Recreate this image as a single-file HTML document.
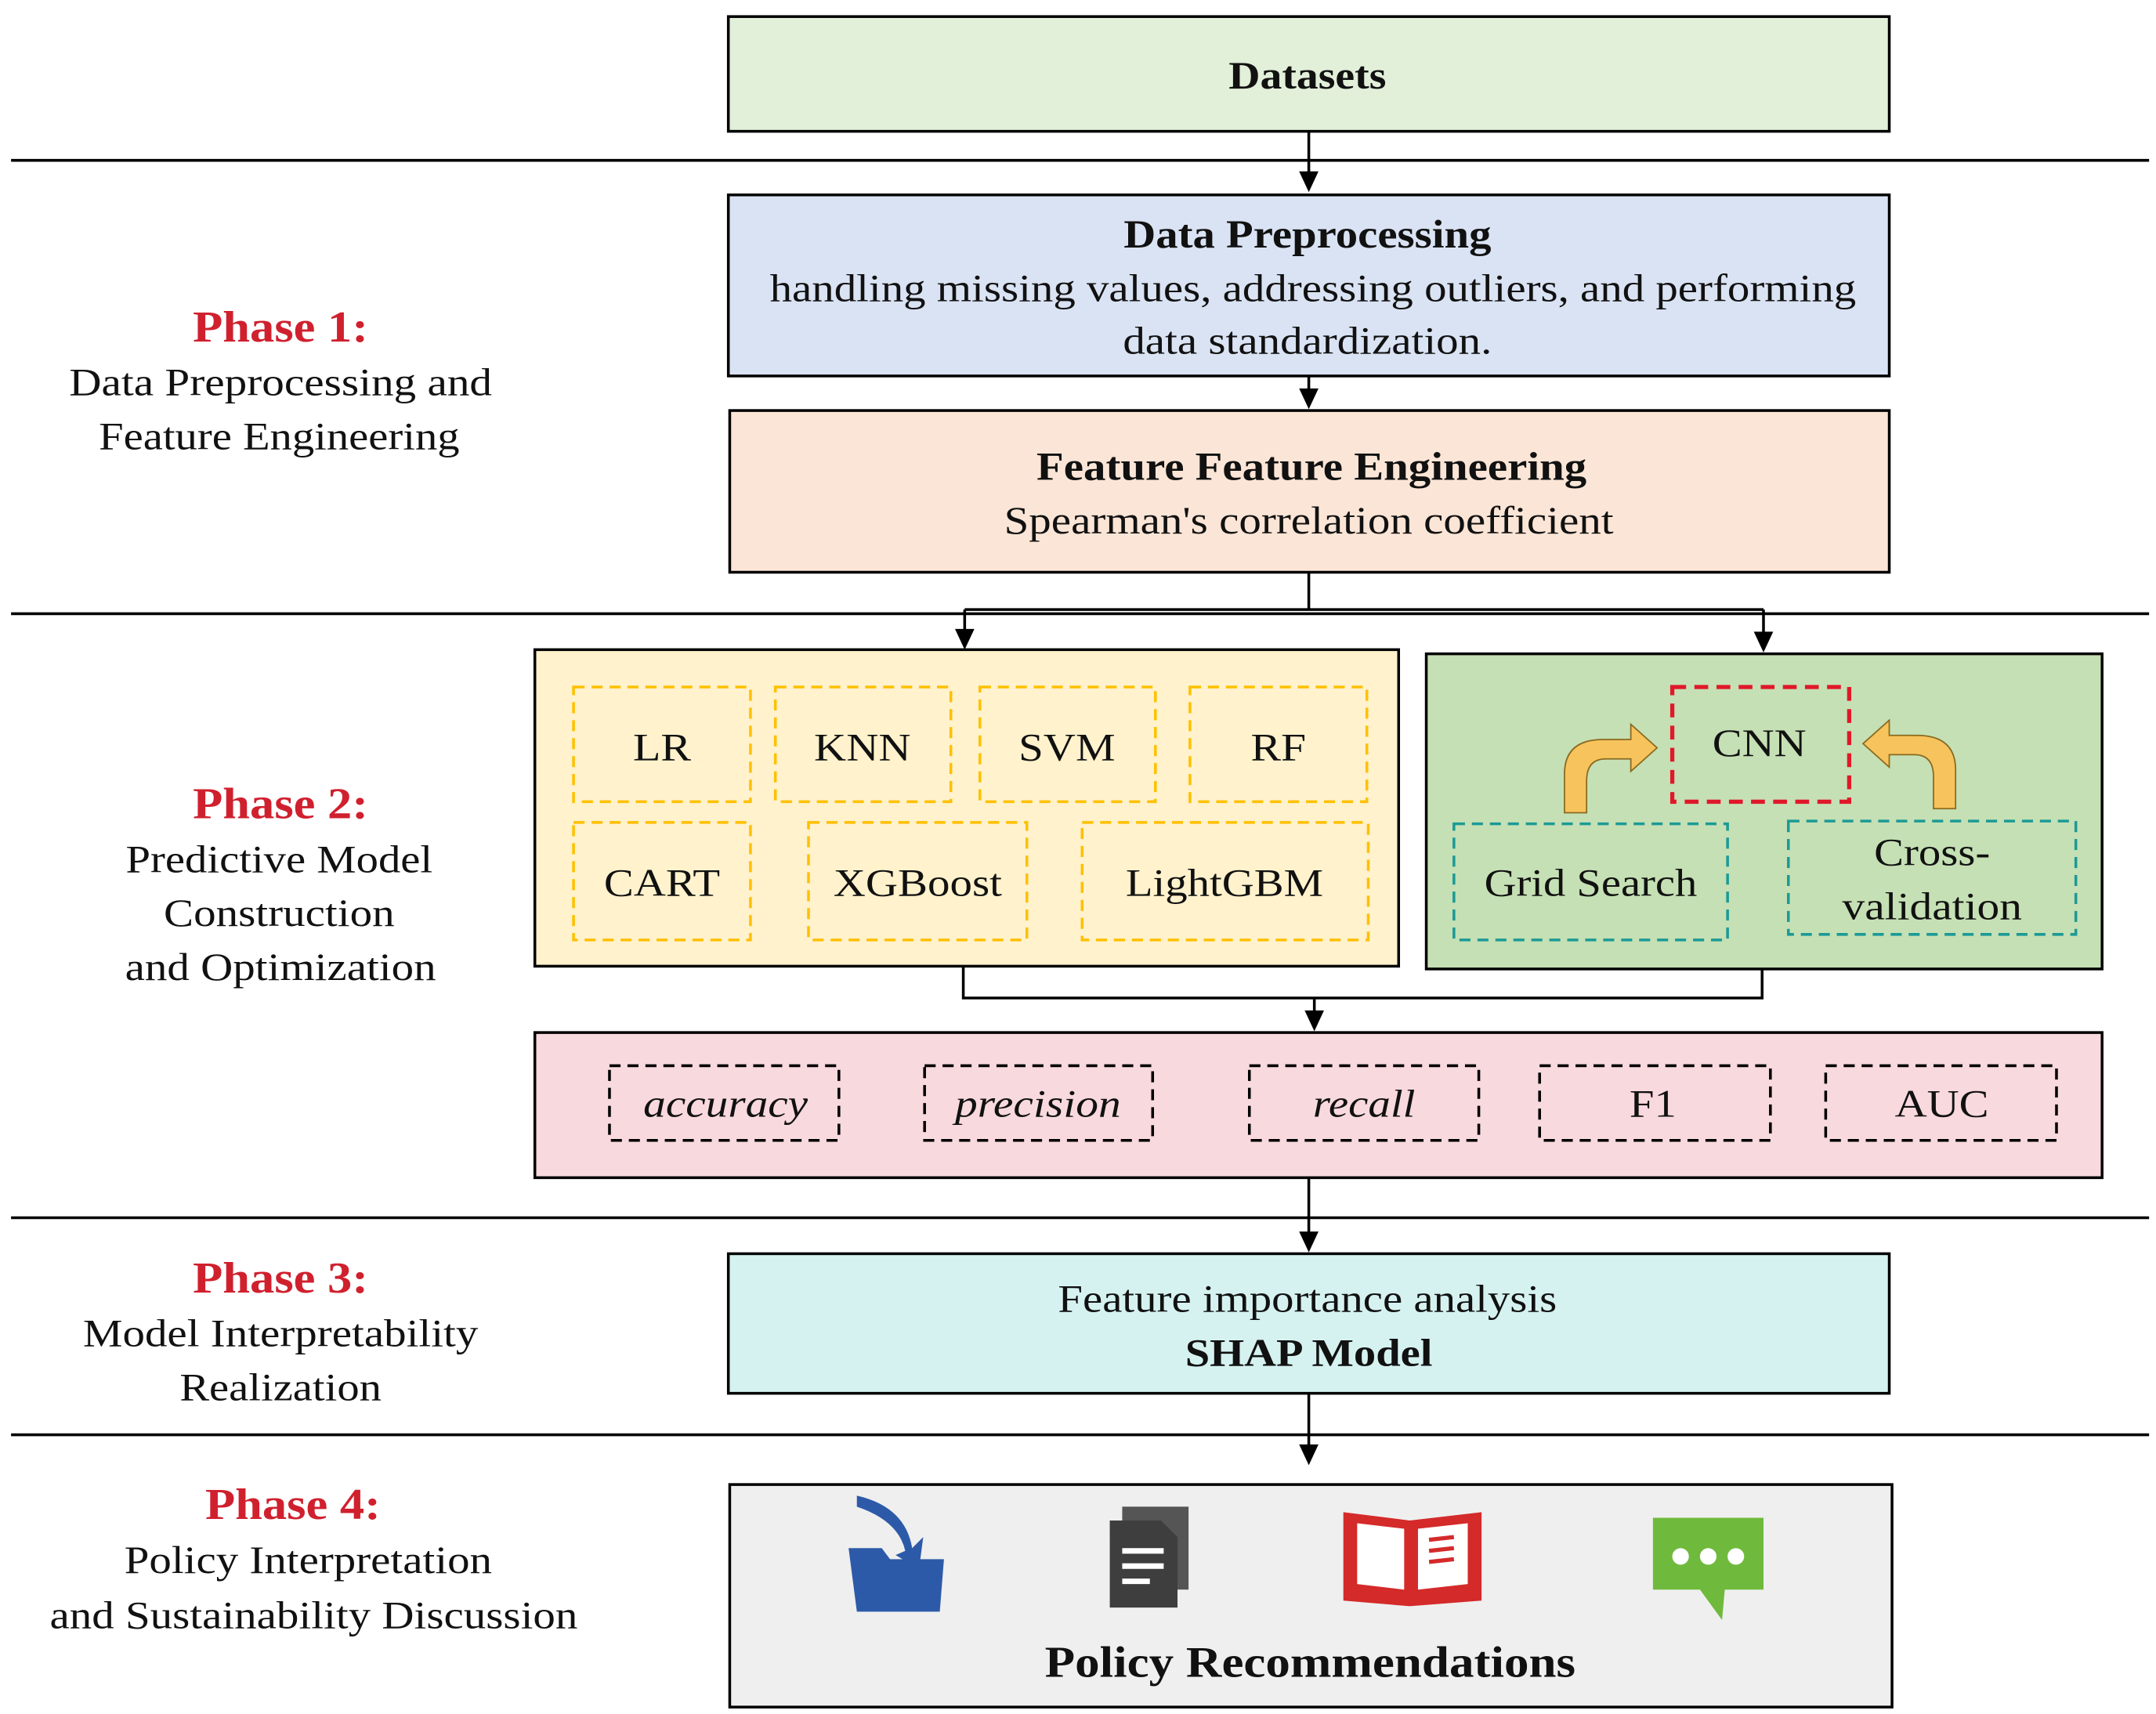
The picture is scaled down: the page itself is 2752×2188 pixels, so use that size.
<!DOCTYPE html>
<html><head><meta charset="utf-8"><style>
html,body{margin:0;padding:0;background:#fff;}
svg{display:block;}
svg text{font-family:"Liberation Serif","Times New Roman","DejaVu Serif",serif;fill:#111;}
</style></head><body>
<svg width="2752" height="2188" viewBox="0 0 1560 1240" preserveAspectRatio="none" xmlns="http://www.w3.org/2000/svg" font-family="Liberation Serif, Times New Roman, serif">
<g stroke="#000" stroke-width="2">
<line x1="8" y1="116" x2="1555" y2="116"/>
<line x1="8" y1="444" x2="1555" y2="444"/>
<line x1="8" y1="881" x2="1555" y2="881"/>
<line x1="8" y1="1038" x2="1555" y2="1038"/>
</g>
<rect x="527" y="12" width="840" height="83" fill="#e2efd9" stroke="#000" stroke-width="2"/>
<text x="946" y="64" font-size="28" font-weight="bold" text-anchor="middle" textLength="114" lengthAdjust="spacingAndGlyphs">Datasets</text>
<line x1="947" y1="95" x2="947" y2="128" stroke="#000" stroke-width="2"/>
<polygon points="940,124 954,124 947,139" fill="#000"/>
<rect x="527" y="141" width="840" height="131" fill="#dae3f3" stroke="#000" stroke-width="2"/>
<text x="946" y="179" font-size="29" font-weight="bold" text-anchor="middle" textLength="266" lengthAdjust="spacingAndGlyphs">Data Preprocessing</text>
<text x="950" y="218" font-size="28" text-anchor="middle" textLength="786" lengthAdjust="spacingAndGlyphs">handling missing values, addressing outliers, and performing</text>
<text x="946" y="256" font-size="28" text-anchor="middle" textLength="267" lengthAdjust="spacingAndGlyphs">data standardization.</text>
<line x1="947" y1="272" x2="947" y2="284" stroke="#000" stroke-width="2"/>
<polygon points="940,281 954,281 947,296" fill="#000"/>
<rect x="528" y="297" width="839" height="117" fill="#fbe5d6" stroke="#000" stroke-width="2"/>
<text x="949" y="347" font-size="29" font-weight="bold" text-anchor="middle" textLength="398" lengthAdjust="spacingAndGlyphs">Feature Feature Engineering</text>
<text x="947" y="386" font-size="28" text-anchor="middle" textLength="441" lengthAdjust="spacingAndGlyphs">Spearman's correlation coefficient</text>
<g stroke="#000" stroke-width="2" fill="none">
<polyline points="947,414 947,441"/>
<polyline points="698,441 1276,441"/>
<line x1="698" y1="441" x2="698" y2="458"/>
<line x1="1276" y1="441" x2="1276" y2="460"/>
</g>
<polygon points="691,455 705,455 698,470" fill="#000"/>
<polygon points="1269,457 1283,457 1276,472" fill="#000"/>
<rect x="387" y="470" width="625" height="229" fill="#fff2cc" stroke="#000" stroke-width="2"/>
<g fill="none" stroke="#ffc000" stroke-width="2" stroke-dasharray="8,5">
<rect x="415" y="497" width="128" height="83"/>
<rect x="561" y="497" width="127" height="83"/>
<rect x="709" y="497" width="127" height="83"/>
<rect x="861" y="497" width="128" height="83"/>
<rect x="415" y="595" width="128" height="85"/>
<rect x="585" y="595" width="158" height="85"/>
<rect x="783" y="595" width="207" height="85"/>
</g>
<g font-size="28" text-anchor="middle">
<text x="479" y="550" textLength="42" lengthAdjust="spacingAndGlyphs">LR</text>
<text x="624" y="550" textLength="70" lengthAdjust="spacingAndGlyphs">KNN</text>
<text x="772" y="550" textLength="70" lengthAdjust="spacingAndGlyphs">SVM</text>
<text x="925" y="550" textLength="40" lengthAdjust="spacingAndGlyphs">RF</text>
<text x="479" y="648" textLength="84" lengthAdjust="spacingAndGlyphs">CART</text>
<text x="664" y="648" textLength="122" lengthAdjust="spacingAndGlyphs">XGBoost</text>
<text x="886" y="648" textLength="143" lengthAdjust="spacingAndGlyphs">LightGBM</text>
</g>
<rect x="1032" y="473" width="489" height="228" fill="#c5e0b4" stroke="#000" stroke-width="2"/>
<rect x="1210" y="497" width="128" height="83" fill="none" stroke="#e0182a" stroke-width="3" stroke-dasharray="10,6"/>
<rect x="1052" y="596" width="198" height="84" fill="none" stroke="#1c9a96" stroke-width="2" stroke-dasharray="8,5"/>
<rect x="1294" y="594" width="208" height="82" fill="none" stroke="#1c9a96" stroke-width="2" stroke-dasharray="8,5"/>
<g font-size="28" text-anchor="middle">
<text x="1273" y="547" textLength="68" lengthAdjust="spacingAndGlyphs">CNN</text>
<text x="1151" y="648" textLength="154" lengthAdjust="spacingAndGlyphs">Grid Search</text>
<text x="1398" y="626" textLength="84" lengthAdjust="spacingAndGlyphs">Cross-</text>
<text x="1398" y="665" textLength="130" lengthAdjust="spacingAndGlyphs">validation</text>
</g>
<path d="M1132,588 L1132,560 Q1132,535 1160,535 L1180,535 L1180,524 L1199,541 L1180,558 L1180,549 L1162,549 Q1148,549 1148,565 L1148,588 z" fill="#f7c35c" stroke="#8a6a20" stroke-width="1"/>
<path d="M1415,585 L1415,557 Q1415,532 1387,532 L1367,532 L1367,521 L1348,538 L1367,555 L1367,546 L1385,546 Q1399,546 1399,562 L1399,585 z" fill="#f7c35c" stroke="#8a6a20" stroke-width="1"/>
<g stroke="#000" stroke-width="2" fill="none">
<polyline points="697,699 697,722 1275,722 1275,701"/>
<line x1="951" y1="722" x2="951" y2="734"/>
</g>
<polygon points="944,731 958,731 951,746" fill="#000"/>
<rect x="387" y="747" width="1134" height="105" fill="#f8d9de" stroke="#000" stroke-width="2"/>
<g fill="none" stroke="#000" stroke-width="2" stroke-dasharray="8,5">
<rect x="441" y="771" width="166" height="54"/>
<rect x="669" y="771" width="165" height="54"/>
<rect x="904" y="771" width="166" height="54"/>
<rect x="1114" y="771" width="167" height="54"/>
<rect x="1321" y="771" width="167" height="54"/>
</g>
<g font-size="28" text-anchor="middle">
<text x="525" y="808" font-style="italic" textLength="119" lengthAdjust="spacingAndGlyphs">accuracy</text>
<text x="751" y="808" font-style="italic" textLength="120" lengthAdjust="spacingAndGlyphs">precision</text>
<text x="987" y="808" font-style="italic" textLength="74" lengthAdjust="spacingAndGlyphs">recall</text>
<text x="1196" y="808" textLength="34" lengthAdjust="spacingAndGlyphs">F1</text>
<text x="1405" y="808" textLength="68" lengthAdjust="spacingAndGlyphs">AUC</text>
</g>
<line x1="947" y1="852" x2="947" y2="894" stroke="#000" stroke-width="2"/>
<polygon points="940,891 954,891 947,906" fill="#000"/>
<rect x="527" y="907" width="840" height="101" fill="#d5f2f0" stroke="#000" stroke-width="2"/>
<text x="946" y="949" font-size="28" text-anchor="middle" textLength="361" lengthAdjust="spacingAndGlyphs">Feature importance analysis</text>
<text x="947" y="988" font-size="28" font-weight="bold" text-anchor="middle" textLength="179" lengthAdjust="spacingAndGlyphs">SHAP Model</text>
<line x1="947" y1="1008" x2="947" y2="1048" stroke="#000" stroke-width="2"/>
<polygon points="940,1045 954,1045 947,1060" fill="#000"/>
<rect x="528" y="1074" width="841" height="161" fill="#efefef" stroke="#000" stroke-width="2"/>
<path d="M620,1082 Q655,1090 660,1120 L668,1112 L665,1135 L648,1125 L655,1122 Q650,1100 620,1090 z" fill="#2d5aa8"/>
<path d="M614,1120 L638,1120 L644,1128 L683,1128 L680,1166 L620,1166 z" fill="#2d5aa8"/>
<rect x="812" y="1090" width="48" height="60" fill="#555"/>
<path d="M803,1100 L840,1100 L852,1112 L852,1163 L803,1163 z" fill="#3e3e3e"/>
<g stroke="#fff" stroke-width="4"><line x1="812" y1="1122" x2="842" y2="1122"/><line x1="812" y1="1133" x2="842" y2="1133"/><line x1="812" y1="1144" x2="832" y2="1144"/></g>
<path d="M972,1094 L1020,1100 L1072,1094 L1072,1158 L1020,1162 L972,1158 z" fill="#d42a2a"/>
<path d="M982,1102 L1016,1106 L1016,1150 L982,1146 z M1026,1106 L1062,1102 L1062,1146 L1026,1150 z" fill="#fff"/>
<g stroke="#d42a2a" stroke-width="3"><line x1="1034" y1="1114" x2="1052" y2="1112"/><line x1="1034" y1="1122" x2="1052" y2="1120"/><line x1="1034" y1="1130" x2="1052" y2="1128"/></g>
<path d="M1196,1098 L1276,1098 L1276,1150 L1248,1150 L1246,1172 L1230,1150 L1196,1150 z" fill="#6fba3c"/>
<g fill="#fff"><circle cx="1216" cy="1126" r="6"/><circle cx="1236" cy="1126" r="6"/><circle cx="1256" cy="1126" r="6"/></g>
<text x="948" y="1213" font-size="32" font-weight="bold" text-anchor="middle" textLength="384" lengthAdjust="spacingAndGlyphs">Policy Recommendations</text>
<g text-anchor="middle" font-size="28">
<text x="203" y="247" font-size="32" font-weight="bold" style="fill:#d0202e" textLength="127" lengthAdjust="spacingAndGlyphs">Phase 1:</text>
<text x="203" y="286" textLength="306" lengthAdjust="spacingAndGlyphs">Data Preprocessing and</text>
<text x="202" y="325" textLength="261" lengthAdjust="spacingAndGlyphs">Feature Engineering</text>
<text x="203" y="592" font-size="32" font-weight="bold" style="fill:#d0202e" textLength="127" lengthAdjust="spacingAndGlyphs">Phase 2:</text>
<text x="202" y="631" textLength="222" lengthAdjust="spacingAndGlyphs">Predictive Model</text>
<text x="202" y="670" textLength="167" lengthAdjust="spacingAndGlyphs">Construction</text>
<text x="203" y="709" textLength="225" lengthAdjust="spacingAndGlyphs">and Optimization</text>
<text x="203" y="935" font-size="32" font-weight="bold" style="fill:#d0202e" textLength="127" lengthAdjust="spacingAndGlyphs">Phase 3:</text>
<text x="203" y="974" textLength="286" lengthAdjust="spacingAndGlyphs">Model Interpretability</text>
<text x="203" y="1013" textLength="146" lengthAdjust="spacingAndGlyphs">Realization</text>
<text x="212" y="1099" font-size="32" font-weight="bold" style="fill:#d0202e" textLength="127" lengthAdjust="spacingAndGlyphs">Phase 4:</text>
<text x="223" y="1138" textLength="266" lengthAdjust="spacingAndGlyphs">Policy Interpretation</text>
<text x="227" y="1178" textLength="382" lengthAdjust="spacingAndGlyphs">and Sustainability Discussion</text>
</g>
</svg>
</body></html>
